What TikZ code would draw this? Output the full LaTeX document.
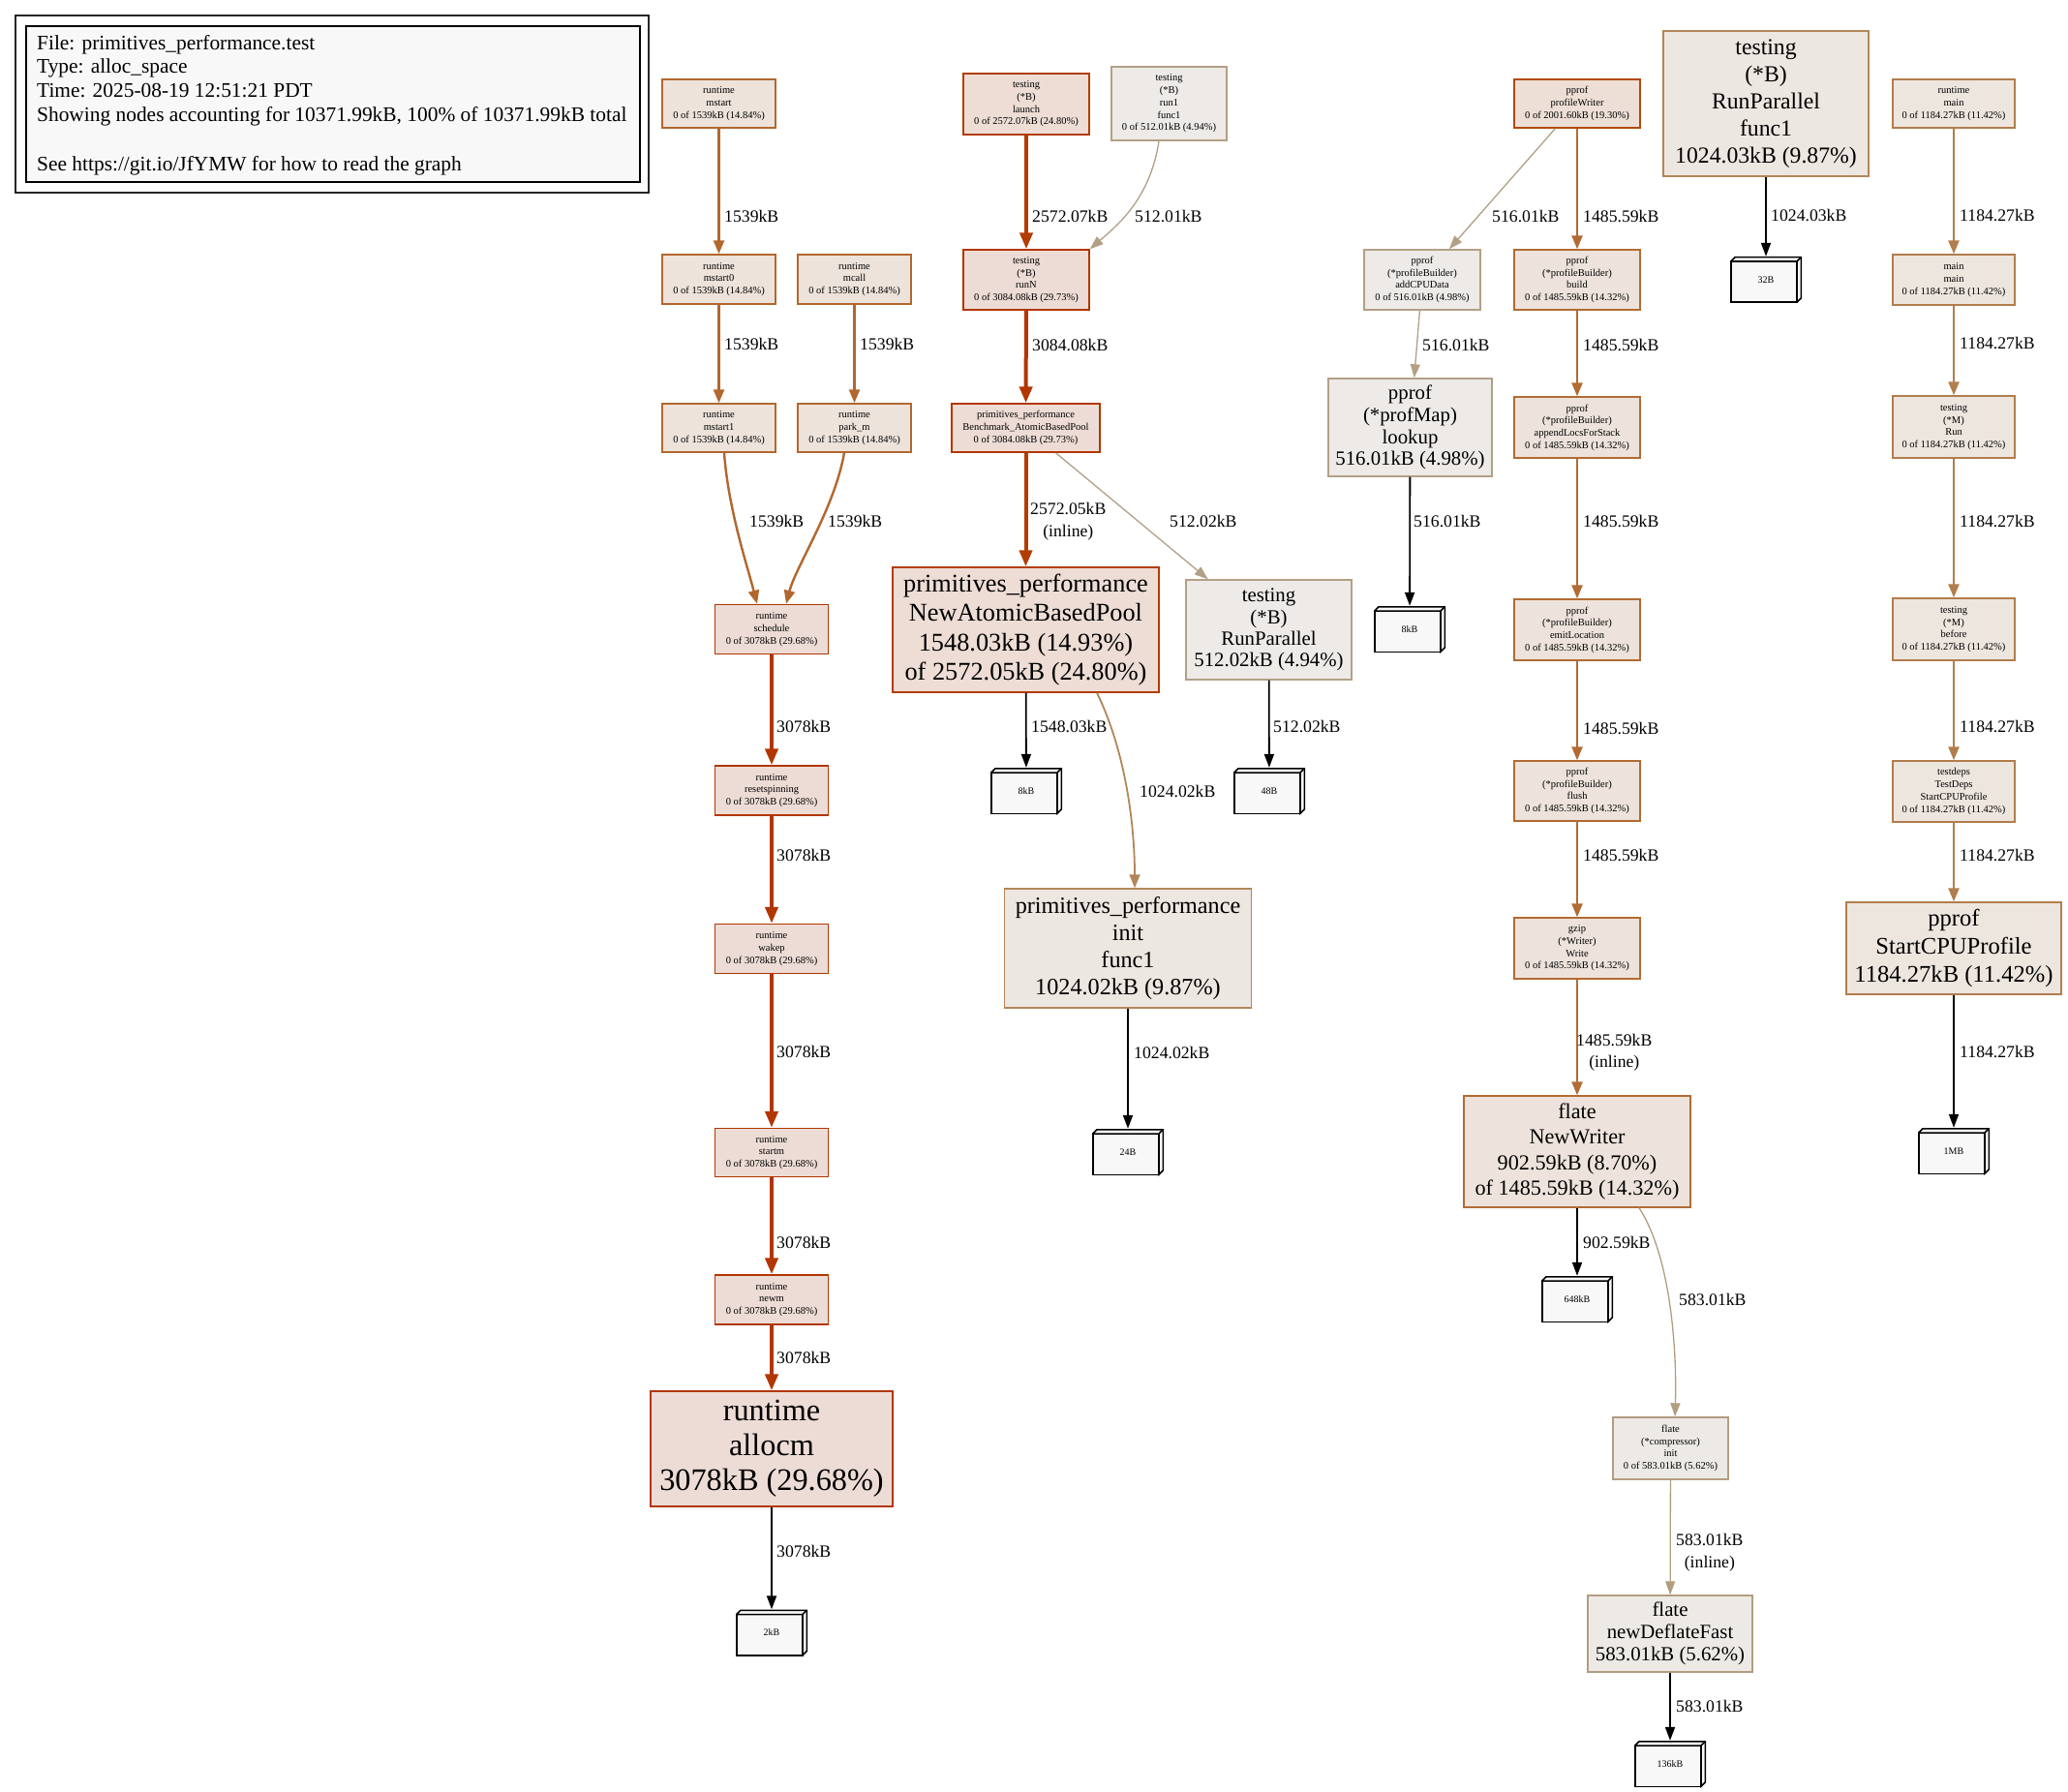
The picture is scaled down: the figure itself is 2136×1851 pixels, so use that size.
\documentclass[tikz,border=0pt]{standalone}
\usepackage{fontspec}
\setmainfont{Liberation Serif}
\usetikzlibrary{arrows.meta}

% pprof heat colours: foreground (border / edge) and background (fill)
\definecolor{fg3078}{HTML}{B23600}\definecolor{bg3078}{HTML}{EDDCD5}
\definecolor{fg2572}{HTML}{B23D00}\definecolor{bg2572}{HTML}{EDDDD5}
\definecolor{fg2001}{HTML}{B24906}\definecolor{bg2001}{HTML}{EDDFD6}
\definecolor{fg1539}{HTML}{B2672E}\definecolor{bg1539}{HTML}{EDE3DB}
\definecolor{fg1485}{HTML}{B26B32}\definecolor{bg1485}{HTML}{EDE3DC}
\definecolor{fg1184}{HTML}{B27D4C}\definecolor{bg1184}{HTML}{EDE6DF}
\definecolor{fg1024}{HTML}{B2865A}\definecolor{bg1024}{HTML}{EDE7E1}
\definecolor{fg583}{HTML}{B29D80}\definecolor{bg583}{HTML}{EDEAE6}
\definecolor{fg512}{HTML}{B2A086}\definecolor{bg512}{HTML}{EDEAE7}
\definecolor{leafgray}{HTML}{F8F8F8}

\newcommand\pfsize[2]{\fontsize{#1}{#2}\selectfont}

\begin{document}
\begin{tikzpicture}[x=1pt,y=-1pt,
  fn/.style={draw, rectangle, align=center, inner sep=0pt, line width=1.4pt},
  small/.style={font=\pfsize{10.5}{12.7}},
  n3078/.style={draw=fg3078, fill=bg3078},
  n2572/.style={draw=fg2572, fill=bg2572},
  n2001/.style={draw=fg2001, fill=bg2001},
  n1539/.style={draw=fg1539, fill=bg1539},
  n1485/.style={draw=fg1485, fill=bg1485},
  n1184/.style={draw=fg1184, fill=bg1184},
  n1024/.style={draw=fg1024, fill=bg1024},
  n583/.style={draw=fg583, fill=bg583},
  n512/.style={draw=fg512, fill=bg512},
  elabel/.style={font=\pfsize{17.7}{22.5}, anchor=west, inner sep=0pt, align=center},
  ethick/.style={line width=4pt, -{Triangle[length=17pt,width=13pt]}},
  emed/.style={line width=2.4pt, -{Triangle[length=14pt,width=11pt]}},
  elight/.style={line width=1.8pt, -{Triangle[length=14pt,width=11pt]}},
  ethin/.style={line width=1.3pt, -{Triangle[length=14pt,width=10pt]}},
  eleaf/.style={draw=black, line width=1.8pt, -{Triangle[length=14pt,width=10pt]}},
  leafbox/.style={minimum width=74pt, minimum height=48pt, inner sep=0pt,
    fill=white, font=\pfsize{10}{12},
    path picture={
      \draw[line width=1.5pt, fill=leafgray]
        ([xshift=.75pt,yshift=.75pt]path picture bounding box.south west) rectangle
        ([xshift=-5pt,yshift=-5pt]path picture bounding box.north east);
      \draw[line width=1.5pt, fill=leafgray, line join=miter]
        ([xshift=.75pt,yshift=-5pt]path picture bounding box.north west) --
        ([xshift=5pt,yshift=-.75pt]path picture bounding box.north west) --
        ([xshift=-.75pt,yshift=-.75pt]path picture bounding box.north east) --
        ([xshift=-.75pt,yshift=5pt]path picture bounding box.south east) --
        ([xshift=-5pt,yshift=.75pt]path picture bounding box.south east) --
        ([xshift=-5pt,yshift=-5pt]path picture bounding box.north east) -- cycle;
      \draw[line width=1.5pt]
        ([xshift=-5pt,yshift=-5pt]path picture bounding box.north east) --
        ([xshift=-.75pt,yshift=-.75pt]path picture bounding box.north east);
    }},
]
\useasboundingbox (0,0) rectangle (2136,1851);
\fill[white] (0,0) rectangle (2136,1851);

% ---------- legend ----------
\node[draw=black!85, line width=1.4pt, fill=white, minimum width=654pt, minimum height=183pt, inner sep=0pt] (legendouter) at (343,107.5) {};
\node[draw=black, line width=1.4pt, fill=leafgray, minimum width=634pt, minimum height=161pt, inner sep=0pt] (legendinner) at (344,107.5) {};
\node[anchor=north west, inner sep=0pt, align=left, font=\pfsize{21.4}{24.6}] (legendtext) at (38,36)
  {File: primitives\_performance.test\\Type: alloc\_space\\Time: 2025-08-19 12:51:21 PDT\\Showing nodes accounting for 10371.99kB, 100\% of 10371.99kB total\\[26.6pt]See https://git.io/JfYMW for how to read the graph};

% ---------- runtime scheduler chain ----------
\node[fn, small, n1539, minimum width=117pt, minimum height=50pt] (mstart) at (742.5,107) {runtime\\mstart\\0 of 1539kB (14.84\%)};
\node[fn, small, n1539, minimum width=117pt, minimum height=51pt] (mstart0) at (742.5,288.5) {runtime\\mstart0\\0 of 1539kB (14.84\%)};
\node[fn, small, n1539, minimum width=117pt, minimum height=51pt] (mcall) at (882.5,288.5) {runtime\\mcall\\0 of 1539kB (14.84\%)};
\node[fn, small, n1539, minimum width=117pt, minimum height=50pt] (mstart1) at (742.5,442) {runtime\\mstart1\\0 of 1539kB (14.84\%)};
\node[fn, small, n1539, minimum width=117pt, minimum height=50pt] (parkm) at (882.5,442) {runtime\\park\_m\\0 of 1539kB (14.84\%)};
\node[fn, small, n3078, minimum width=117pt, minimum height=51pt] (schedule) at (797,650) {runtime\\schedule\\0 of 3078kB (29.68\%)};
\node[fn, small, n3078, minimum width=117pt, minimum height=51pt] (resetspinning) at (797,816.5) {runtime\\resetspinning\\0 of 3078kB (29.68\%)};
\node[fn, small, n3078, minimum width=117pt, minimum height=51pt] (wakep) at (797,980) {runtime\\wakep\\0 of 3078kB (29.68\%)};
\node[fn, small, n3078, minimum width=117pt, minimum height=50pt] (startm) at (797,1190.5) {runtime\\startm\\0 of 3078kB (29.68\%)};
\node[fn, small, n3078, minimum width=117pt, minimum height=51pt] (newm) at (797,1342.5) {runtime\\newm\\0 of 3078kB (29.68\%)};
\node[fn, n3078, font=\pfsize{32.3}{36}, minimum width=250pt, minimum height=119pt] (allocm) at (797,1496.5) {runtime\\allocm\\3078kB (29.68\%)};
\node[leafbox] (leaf2kB) at (797,1686.5) {2kB};

% ---------- benchmark chain ----------
\node[fn, small, n2572, minimum width=130pt, minimum height=63pt] (launch) at (1060,107.5) {testing\\(*B)\\launch\\0 of 2572.07kB (24.80\%)};
\node[fn, small, n512, minimum width=119pt, minimum height=76pt] (runonefunc) at (1207.5,107) {testing\\(*B)\\run1\\func1\\0 of 512.01kB (4.94\%)};
\node[fn, small, n3078, minimum width=130pt, minimum height=62pt] (runN) at (1060,289) {testing\\(*B)\\runN\\0 of 3084.08kB (29.73\%)};
\node[fn, small, n3078, minimum width=153pt, minimum height=50pt] (bench) at (1059.5,442) {primitives\_performance\\Benchmark\_AtomicBasedPool\\0 of 3084.08kB (29.73\%)};
\node[fn, n2572, font=\pfsize{26.3}{30.4}, minimum width=275pt, minimum height=129pt] (newpool) at (1059.5,650.5) {primitives\_performance\\NewAtomicBasedPool\\1548.03kB (14.93\%)\\of 2572.05kB (24.80\%)};
\node[fn, n512, font=\pfsize{20.8}{22.3}, minimum width=171pt, minimum height=103pt] (runpar) at (1310.5,650.5) {testing\\(*B)\\RunParallel\\512.02kB (4.94\%)};
\node[leafbox] (leaf8kBa) at (1060,817) {8kB};
\node[leafbox] (leaf48B) at (1311,817) {48B};
\node[fn, n1024, font=\pfsize{24.2}{27.7}, minimum width=255pt, minimum height=123pt] (initfunc) at (1165,979.5) {primitives\_performance\\init\\func1\\1024.02kB (9.87\%)};
\node[leafbox] (leaf24B) at (1165,1190) {24B};

% ---------- profile writer chain ----------
\node[fn, small, n2001, minimum width=130pt, minimum height=50pt] (profwriter) at (1629,107) {pprof\\profileWriter\\0 of 2001.60kB (19.30\%)};
\node[fn, small, n512, minimum width=120pt, minimum height=62pt] (addcpu) at (1469,289) {pprof\\(*profileBuilder)\\addCPUData\\0 of 516.01kB (4.98\%)};
\node[fn, small, n1485, minimum width=130pt, minimum height=62pt] (build) at (1629,289) {pprof\\(*profileBuilder)\\build\\0 of 1485.59kB (14.32\%)};
\node[fn, n512, font=\pfsize{20.8}{22.8}, minimum width=169pt, minimum height=101pt] (lookup) at (1456.5,441.5) {pprof\\(*profMap)\\lookup\\516.01kB (4.98\%)};
\node[fn, small, n1485, minimum width=130pt, minimum height=63pt] (appendlocs) at (1629,441.5) {pprof\\(*profileBuilder)\\appendLocsForStack\\0 of 1485.59kB (14.32\%)};
\node[leafbox] (leaf8kBb) at (1456,650) {8kB};
\node[fn, small, n1485, minimum width=130pt, minimum height=63pt] (emitloc) at (1629,650.5) {pprof\\(*profileBuilder)\\emitLocation\\0 of 1485.59kB (14.32\%)};
\node[fn, small, n1485, minimum width=130pt, minimum height=62pt] (flush) at (1629,817) {pprof\\(*profileBuilder)\\flush\\0 of 1485.59kB (14.32\%)};
\node[fn, small, n1485, minimum width=130pt, minimum height=63pt] (gzwrite) at (1629,979.5) {gzip\\(*Writer)\\Write\\0 of 1485.59kB (14.32\%)};
\node[fn, n1485, font=\pfsize{22.2}{26.2}, minimum width=234pt, minimum height=115pt] (newwriter) at (1629,1189.5) {flate\\NewWriter\\902.59kB (8.70\%)\\of 1485.59kB (14.32\%)};
\node[leafbox] (leaf648kB) at (1629,1342) {648kB};
\node[fn, small, n583, minimum width=119pt, minimum height=64pt] (compinit) at (1725.5,1496) {flate\\(*compressor)\\init\\0 of 583.01kB (5.62\%)};
\node[fn, n583, font=\pfsize{20.8}{23.3}, minimum width=170pt, minimum height=79pt] (deflatefast) at (1725,1687.5) {flate\\newDeflateFast\\583.01kB (5.62\%)};
\node[leafbox] (leaf136kB) at (1725,1822) {136kB};

% ---------- RunParallel worker ----------
\node[fn, n1024, font=\pfsize{23.7}{28}, minimum width=212pt, minimum height=150pt] (runparfunc) at (1824,107) {testing\\(*B)\\RunParallel\\func1\\1024.03kB (9.87\%)};
\node[leafbox] (leaf32B) at (1824,289) {32B};

% ---------- CPU profile start chain ----------
\node[fn, small, n1184, minimum width=126pt, minimum height=50pt] (rtmain) at (2018,107) {runtime\\main\\0 of 1184.27kB (11.42\%)};
\node[fn, small, n1184, minimum width=126pt, minimum height=52pt] (mainmain) at (2018,289) {main\\main\\0 of 1184.27kB (11.42\%)};
\node[fn, small, n1184, minimum width=126pt, minimum height=64pt] (mrun) at (2018,441) {testing\\(*M)\\Run\\0 of 1184.27kB (11.42\%)};
\node[fn, small, n1184, minimum width=126pt, minimum height=64pt] (mbefore) at (2018,650) {testing\\(*M)\\before\\0 of 1184.27kB (11.42\%)};
\node[fn, small, n1184, minimum width=126pt, minimum height=63pt] (tdstart) at (2018,817.5) {testdeps\\TestDeps\\StartCPUProfile\\0 of 1184.27kB (11.42\%)};
\node[fn, n1184, font=\pfsize{24.6}{28.6}, minimum width=222pt, minimum height=95pt] (startcpu) at (2018,979.5) {pprof\\StartCPUProfile\\1184.27kB (11.42\%)};
\node[leafbox] (leaf1MB) at (2018,1189) {1MB};

% ---------- edges ----------
\draw[emed, draw=fg1539] (mstart) -- (mstart0);
\draw[emed, draw=fg1539] (mstart0) -- (mstart1);
\draw[emed, draw=fg1539] (mcall) -- (parkm);
\draw[emed, draw=fg1539] ([xshift=5.5pt]mstart1.south) .. controls (752,525) and (772,585) .. ([xshift=-15pt]schedule.north);
\draw[emed, draw=fg1539] ([xshift=-10.5pt]parkm.south) .. controls (862,525) and (822,585) .. ([xshift=15pt]schedule.north);
\draw[ethick, draw=fg3078] (schedule) -- (resetspinning);
\draw[ethick, draw=fg3078] (resetspinning) -- (wakep);
\draw[ethick, draw=fg3078] (wakep) -- (startm);
\draw[ethick, draw=fg3078] (startm) -- (newm);
\draw[ethick, draw=fg3078] (newm) -- (allocm);
\draw[eleaf] (allocm) -- (leaf2kB);

\draw[ethick, draw=fg2572] (launch) -- (runN);
\draw[ethin, draw=fg512] ([xshift=-10.5pt]runonefunc.south) .. controls (1188,205) and (1155,232) .. (runN.north east);
\draw[ethick, draw=fg3078] (runN) -- (bench);
\draw[ethick, draw=fg2572] (bench) -- (newpool);
\draw[ethin, draw=fg512] (bench) -- (runpar);
\draw[eleaf] (newpool) -- (leaf8kBa);
\draw[elight, draw=fg1024] ([xshift=73.5pt]newpool.south) .. controls (1162,775) and (1172,850) .. ([xshift=7pt]initfunc.north);
\draw[eleaf] (runpar) -- (leaf48B);
\draw[eleaf] (initfunc) -- (leaf24B);

\draw[ethin, draw=fg512] (profwriter) -- (addcpu);
\draw[emed, draw=fg1485] (profwriter) -- (build);
\draw[ethin, draw=fg512] (addcpu) -- (lookup);
\draw[emed, draw=fg1485] (build) -- (appendlocs);
\draw[eleaf] (lookup) -- (leaf8kBb);
\draw[emed, draw=fg1485] (appendlocs) -- (emitloc);
\draw[emed, draw=fg1485] (emitloc) -- (flush);
\draw[emed, draw=fg1485] (flush) -- (gzwrite);
\draw[emed, draw=fg1485] (gzwrite) -- (newwriter);
\draw[eleaf] (newwriter) -- (leaf648kB);
\draw[ethin, draw=fg583] ([xshift=64pt]newwriter.south) .. controls (1727,1300) and (1732,1400) .. ([xshift=4.5pt]compinit.north);
\draw[ethin, draw=fg583] (compinit) -- (deflatefast);
\draw[eleaf] (deflatefast) -- (leaf136kB);

\draw[eleaf] (runparfunc) -- (leaf32B);

\draw[emed, draw=fg1184] (rtmain) -- (mainmain);
\draw[emed, draw=fg1184] (mainmain) -- (mrun);
\draw[emed, draw=fg1184] (mrun) -- (mbefore);
\draw[emed, draw=fg1184] (mbefore) -- (tdstart);
\draw[emed, draw=fg1184] (tdstart) -- (startcpu);
\draw[eleaf] (startcpu) -- (leaf1MB);

% ---------- edge labels ----------
\node[elabel] (lmsa) at (748,223) {1539kB};
\node[elabel] (lmsb) at (748,355) {1539kB};
\node[elabel] (lpark) at (888,355) {1539kB};
\node[elabel] (lscha) at (774,538) {1539kB};
\node[elabel] (lschb) at (855,538) {1539kB};
\node[elabel] (lreset) at (802,750) {3078kB};
\node[elabel] (lwakep) at (802,883) {3078kB};
\node[elabel] (lstartm) at (802,1086) {3078kB};
\node[elabel] (lnewm) at (802,1283) {3078kB};
\node[elabel] (lallocm) at (802,1402) {3078kB};
\node[elabel] (lleafa) at (802,1602) {3078kB};

\node[elabel] (llaunch) at (1066,223) {2572.07kB};
\node[elabel] (lrunone) at (1172,223) {512.01kB};
\node[elabel] (lrunN) at (1066,356) {3084.08kB};
\node[elabel] (lpool) at (1064,538.5) {2572.05kB\\(inline)};
\node[elabel] (lrunpar) at (1208,538) {512.02kB};
\node[elabel] (lleafb) at (1065,750) {1548.03kB};
\node[elabel] (lleafc) at (1315,750) {512.02kB};
\node[elabel] (linit) at (1177,817) {1024.02kB};
\node[elabel] (lleafd) at (1171,1087) {1024.02kB};

\node[elabel] (laddcpu) at (1541,223) {516.01kB};
\node[elabel] (lbuild) at (1635,223) {1485.59kB};
\node[elabel] (llookup) at (1469,356) {516.01kB};
\node[elabel] (lappend) at (1635,356) {1485.59kB};
\node[elabel] (lleafe) at (1460,538) {516.01kB};
\node[elabel] (lemit) at (1635,538) {1485.59kB};
\node[elabel] (lflush) at (1635,752) {1485.59kB};
\node[elabel] (lgzip) at (1635,883) {1485.59kB};
\node[elabel] (lnewwriter) at (1628,1087) {1485.59kB\\(inline)};
\node[elabel] (lleaff) at (1635,1283) {902.59kB};
\node[elabel] (lcomp) at (1734,1342) {583.01kB};
\node[elabel] (ldeflate) at (1731,1603.5) {583.01kB\\(inline)};
\node[elabel] (lleafg) at (1731,1762) {583.01kB};

\node[elabel] (lleafh) at (1829,222) {1024.03kB};

\node[elabel] (lmain) at (2024,222) {1184.27kB};
\node[elabel] (lmrun) at (2024,354) {1184.27kB};
\node[elabel] (lbefore) at (2024,538) {1184.27kB};
\node[elabel] (ltdstart) at (2024,750) {1184.27kB};
\node[elabel] (lstartcpu) at (2024,883) {1184.27kB};
\node[elabel] (lleafi) at (2024,1086) {1184.27kB};
\end{tikzpicture}
\end{document}
